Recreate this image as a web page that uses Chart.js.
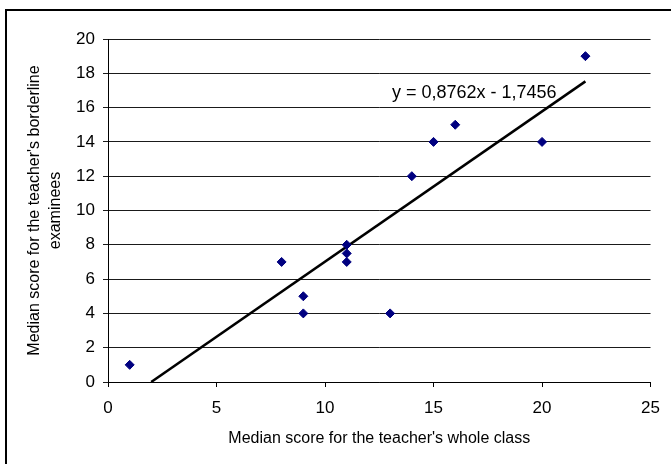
<!DOCTYPE html>
<html><head><meta charset="utf-8">
<script src="https://cdn.jsdelivr.net/npm/chart.js@4/dist/chart.umd.min.js"></script>
<style>html,body{margin:0;padding:0;background:#fff;overflow:hidden}canvas{display:block}</style>
</head><body>
<canvas id="c" width="671" height="464"></canvas>
<script>
// ---- data ----
const classMedian      = [1, 8, 9, 9, 11, 11, 11, 13, 14, 15, 16, 20, 22];
const borderlineMedian = [1, 7, 5, 4, 8, 7.5, 7, 4, 12, 14, 15, 14, 19];
const trendX = [1.99, 22];
const trendY = [0, 17.53];
const equationText = 'y = 0,8762x - 1,7456';
const xTickValues = [0, 5, 10, 15, 20, 25];
const yTickValues = [0, 2, 4, 6, 8, 10, 12, 14, 16, 18, 20];
const xTitle = "Median score for the teacher's whole class";
const yTitle = ["Median score for the teacher's borderline", "examinees"];

const FONT = "'Liberation Sans', Arial, sans-serif";

const points = classMedian.map((x, i) => ({ x, y: borderlineMedian[i] }));
const trend = trendX.map((x, i) => ({ x, y: trendY[i] }));

const frame = {
  id: 'frame',
  beforeDraw(chart) {
    const ctx = chart.ctx;
    ctx.save();
    ctx.fillStyle = '#fff';
    ctx.fillRect(0, 0, chart.width, chart.height);
    ctx.strokeStyle = '#000';
    ctx.lineWidth = 2;
    ctx.beginPath();
    ctx.moveTo(6, chart.height + 2);
    ctx.lineTo(6, 10);
    ctx.lineTo(chart.width + 2, 10);
    ctx.stroke();
    ctx.restore();
  }
};

const equation = {
  id: 'equation',
  afterDatasetsDraw(chart) {
    const ctx = chart.ctx;
    ctx.save();
    ctx.fillStyle = '#000';
    ctx.font = '18px ' + FONT;
    ctx.textAlign = 'left';
    ctx.textBaseline = 'middle';
    ctx.fillText(equationText, 392, 93);
    ctx.restore();
  }
};

new Chart(document.getElementById('c'), {
  type: 'scatter',
  data: {
    datasets: [
      {
        data: points,
        pointStyle: 'rectRot',
        pointRadius: 4.5,
        pointBorderWidth: 1,
        backgroundColor: '#000080',
        borderColor: '#000080',
        showLine: false,
        order: 1
      },
      {
        data: trend,
        showLine: true,
        pointRadius: 0,
        borderColor: '#000',
        borderWidth: 2.5,
        fill: false,
        order: 2
      }
    ]
  },
  options: {
    responsive: false,
    animation: false,
    devicePixelRatio: 1,
    layout: { padding: { left: 0, top: 39, right: 19, bottom: 12 } },
    plugins: { legend: { display: false }, tooltip: { enabled: false } },
    scales: {
      x: {
        type: 'linear',
        min: 0, max: 25,
        afterBuildTicks: s => { s.ticks = xTickValues.map(v => ({ value: v })); },
        afterFit: s => { s.height = 70; },
        ticks: { color: '#000', font: { family: FONT, size: 17 }, padding: 11, maxRotation: 0 },
        grid: { drawOnChartArea: false, drawTicks: true, tickLength: 5, color: '#000', lineWidth: 1 },
        border: { display: true, color: '#000', width: 1 },
        title: { display: true, text: xTitle, color: '#000', font: { family: FONT, size: 16 }, padding: { top: 0, bottom: 4 } }
      },
      y: {
        type: 'linear',
        min: 0, max: 20,
        afterBuildTicks: s => { s.ticks = yTickValues.map(v => ({ value: v })); },
        afterFit: s => { s.width = 108; },
        ticks: { color: '#000', font: { family: FONT, size: 17 }, padding: 8 },
        grid: { drawTicks: true, tickLength: 5, color: '#1a1a1a', lineWidth: 1 },
        border: { display: true, color: '#000', width: 1 },
        title: { display: true, text: yTitle, color: '#000', font: { family: FONT, size: 16, lineHeight: 1.3 }, padding: { top: 24, bottom: 0 } }
      }
    }
  },
  plugins: [frame, equation]
});
</script>
</body></html>
